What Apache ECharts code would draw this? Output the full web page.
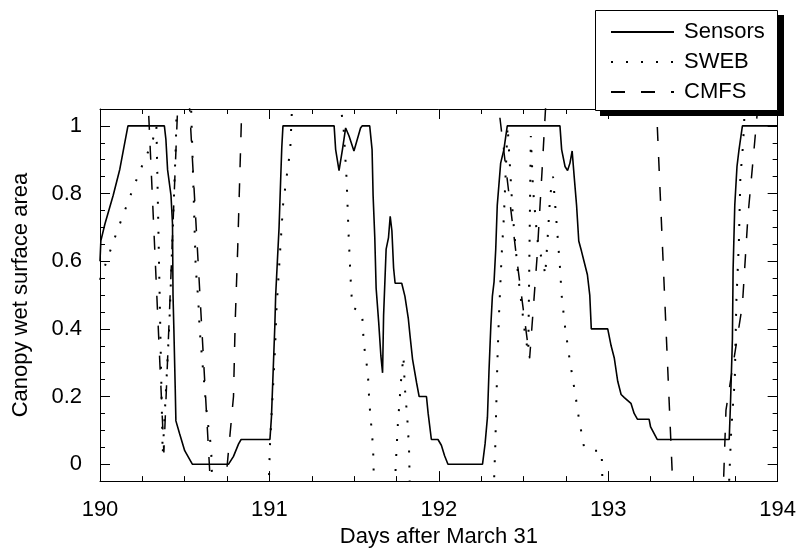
<!DOCTYPE html>
<html><head><meta charset="utf-8">
<script src="https://cdn.jsdelivr.net/npm/echarts@6/dist/echarts.min.js"></script>
<style>html,body{margin:0;padding:0;background:#fff}#c{width:799px;height:553px}</style>
</head><body><div id="c"></div>
<script>
// ---- data (days after March 31, fraction of canopy wet surface) ----
const sensorsX = [190.000,190.005,190.029,190.078,190.117,190.146,190.165,190.380,190.389,190.399,
 190.419,190.428,190.431,190.436,190.444,190.448,190.470,190.500,190.545,190.759,
 190.788,190.818,190.833,191.003,191.012,191.022,191.032,191.037,191.047,191.057,
 191.067,191.073,191.080,191.382,191.391,191.411,191.431,191.450,191.470,191.499,
 191.538,191.547,191.592,191.606,191.612,191.622,191.630,191.645,191.658,191.668,
 191.674,191.689,191.703,191.713,191.723,191.733,191.742,191.781,191.800,191.820,
 191.830,191.845,191.869,191.884,191.927,191.937,191.956,191.995,192.015,192.034,
 192.054,192.258,192.273,192.287,192.296,192.307,192.316,192.326,192.336,192.345,
 192.365,192.384,192.404,192.715,192.725,192.745,192.760,192.774,192.787,192.799,
 192.813,192.826,192.842,192.857,192.877,192.891,192.900,192.997,193.017,193.036,
 193.056,193.076,193.095,193.134,193.153,193.172,193.241,193.250,193.289,193.714,
 193.721,193.733,193.737,193.747,193.760,193.772,193.792,194.000];
const sensorsY = [0.60,0.66,0.71,0.795,0.872,0.95,1.0,1.0,0.96,0.87,
 0.795,0.71,0.50,0.40,0.226,0.128,0.09,0.04,0.0,0.0,
 0.023,0.06,0.073,0.073,0.139,0.273,0.409,0.50,0.60,0.70,
 0.85,0.936,1.0,1.0,0.93,0.868,0.93,0.994,0.97,0.926,
 0.994,1.0,1.0,0.93,0.795,0.67,0.52,0.42,0.32,0.27,
 0.44,0.636,0.67,0.733,0.69,0.58,0.535,0.535,0.496,0.43,
 0.38,0.31,0.24,0.2,0.2,0.15,0.073,0.073,0.056,0.025,
 0.0,0.0,0.06,0.139,0.273,0.409,0.496,0.539,0.636,0.766,
 0.89,0.93,1.0,1.0,0.93,0.88,0.868,0.89,0.926,0.85,
 0.766,0.66,0.63,0.60,0.56,0.50,0.40,0.40,0.35,0.313,
 0.245,0.206,0.197,0.18,0.15,0.133,0.133,0.11,0.073,0.073,
 0.17,0.37,0.574,0.766,0.88,0.93,1.0,1.0];

const swebX = [190.000,190.039,190.101,190.199,190.244,190.288,190.311,190.333,190.370,190.409,
 190.448,190.455,190.534,190.555,190.565,190.580,190.588,190.603,190.632,190.656,
 190.666,190.993,191.003,191.022,191.034,191.041,191.080,191.102,191.123,191.139,
 191.401,191.437,191.456,191.467,191.479,191.489,191.547,191.557,191.581,191.590,
 191.612,191.620,191.737,191.746,191.758,191.777,191.791,191.800,191.814,191.824,
 191.831,192.321,192.333,192.346,192.355,192.371,192.384,192.406,192.437,192.468,
 192.511,192.528,192.543,192.556,192.579,192.589,192.618,192.628,192.647,192.657,
 192.674,192.715,192.725,192.745,192.770,192.813,192.826,192.857,192.891,192.961,
 192.969,193.708,193.726,193.747,193.756,193.771,193.780,193.792,193.802,193.807,194.000];
const swebY = [0.545,0.60,0.689,0.82,0.877,0.928,0.957,1.0,0.03,0.41,
 0.95,1.12,1.12,0.756,0.58,0.487,0.40,0.31,0.139,0.049,
 -0.12,-0.12,0.054,0.233,0.35,0.452,0.764,0.851,0.93,1.12,
 1.12,1.0,0.84,0.684,0.551,0.464,0.447,0.357,0.27,0.182,
 0.049,-0.12,-0.12,0.0,0.116,0.247,0.32,0.222,0.135,0.049,
 -0.12,-0.12,0.05,0.31,0.44,0.62,0.73,1.0,0.734,0.558,
 0.375,0.33,0.97,0.814,0.679,0.636,0.595,0.558,0.706,0.793,
 0.85,0.583,0.499,0.406,0.317,0.182,0.138,0.051,0.04,0.04,
 -0.12,-0.12,0.1,0.25,0.478,0.653,0.85,0.92,1.0,1.12,1.12];

const cmfsX = [190.000,190.268,190.377,190.474,190.507,190.673,190.707,190.755,190.788,190.798,
 190.813,190.823,190.848,192.307,192.413,192.458,192.536,192.579,192.609,192.652,
 193.268,193.397,193.667,193.695,193.792,193.825,193.858,193.917,194.000];
const cmfsY = [1.25,1.25,0.035,1.25,1.25,-0.25,-0.25,0.02,0.20,0.42,
 0.64,0.815,1.25,1.25,0.803,0.614,0.313,0.606,0.864,1.25,
 1.25,-0.25,-0.25,0.16,0.471,0.736,0.916,1.25,1.25];

const xTickValues = [190,191,192,193,194];
const yTickValues = [0,0.2,0.4,0.6,0.8,1];
const yMinorTickValues = [0,0.05,0.1,0.15,0.2,0.25,0.3,0.35,0.4,0.45,0.5,0.55,0.6,0.65,0.7,0.75,0.8,0.85,0.9,0.95,1];

// ---- chart ----
const FONT = 'Liberation Sans';
const txt = {color:'#000', fontFamily: FONT, fontSize: 22};
const black = {color:'#000', width:1};

function xAx(pos, labels){
  return {type:'value', position:pos, min:190, max:194, interval:1,
    axisLine:{show:true, onZero:false, lineStyle:black},
    axisTick:{show:true, inside:true, length:10, lineStyle:black, customValues: xTickValues},
    minorTick:{show:true, splitNumber:4, length:5, lineStyle:black},
    splitLine:{show:false}, minorSplitLine:{show:false},
    axisLabel: labels ? Object.assign({show:true, margin:18, customValues: xTickValues}, txt) : {show:false},
    name: labels ? 'Days after March 31' : '', nameLocation:'middle', nameGap:42, nameTextStyle: txt};
}
function yAx(pos, major, labels){
  return {type:'value', position:pos, min:-0.05, max:1.05,
    axisLine:{show:major, onZero:false, lineStyle:black},
    axisTick:{show:true, inside:true, length: major?10:5, lineStyle:black,
              customValues: major ? yTickValues : yMinorTickValues},
    splitLine:{show:false},
    axisLabel: labels ? Object.assign({show:true, margin:18, customValues: yTickValues}, txt) : {show:false},
    name: labels ? 'Canopy wet surface area' : '', nameLocation:'middle', nameGap:68, nameTextStyle: txt};
}

const zip = (xs, ys) => xs.map((x,i)=>[x, ys[i]]);

const option = {
  animation:false,
  backgroundColor:'#fff',
  grid:{left:100, right:14, top:109, bottom:65, containLabel:false},
  xAxis:[xAx('bottom', true), xAx('top', false)],
  yAxis:[yAx('left', true, true), yAx('left', false, false), yAx('right', true, false), yAx('right', false, false)],
  legend:{show:true, orient:'vertical', left:610, top:21, padding:0, itemWidth:63, itemHeight:14, itemGap:8,
    selectedMode:false, data:['Sensors','SWEB','CMFS'], z:20,
    itemStyle:{opacity:0, color:'transparent', borderColor:'transparent', borderWidth:0},
    textStyle:Object.assign({lineHeight:22, padding:[0,0,0,5]}, txt)},
  graphic:[
    {type:'rect', z:10, shape:{x:600, y:15, width:184, height:101}, style:{fill:'#000'}},
    {type:'rect', z:11, shape:{x:595.5, y:10.5, width:182, height:100}, style:{fill:'#fff', stroke:'#000', lineWidth:1}}
  ],
  series:[
    {name:'Sensors', type:'line', data: zip(sensorsX, sensorsY), symbol:'none', showSymbol:false,
     lineStyle:{color:'#000', width:1.6, type:'solid'}, itemStyle:{color:'#000'}, z:5},
    {name:'SWEB', type:'line', data: zip(swebX, swebY), symbol:'none', showSymbol:false,
     lineStyle:{color:'#000', width:2, type:[2,13]}, itemStyle:{color:'#000'}, z:4},
    {name:'CMFS', type:'line', data: zip(cmfsX, cmfsY), symbol:'none', showSymbol:false,
     lineStyle:{color:'#000', width:1.5, type:[14,16]}, itemStyle:{color:'#000'}, z:3}
  ]
};
const chart = echarts.init(document.getElementById('c'), null, {renderer:'canvas'});
chart.setOption(option);
</script></body></html>
